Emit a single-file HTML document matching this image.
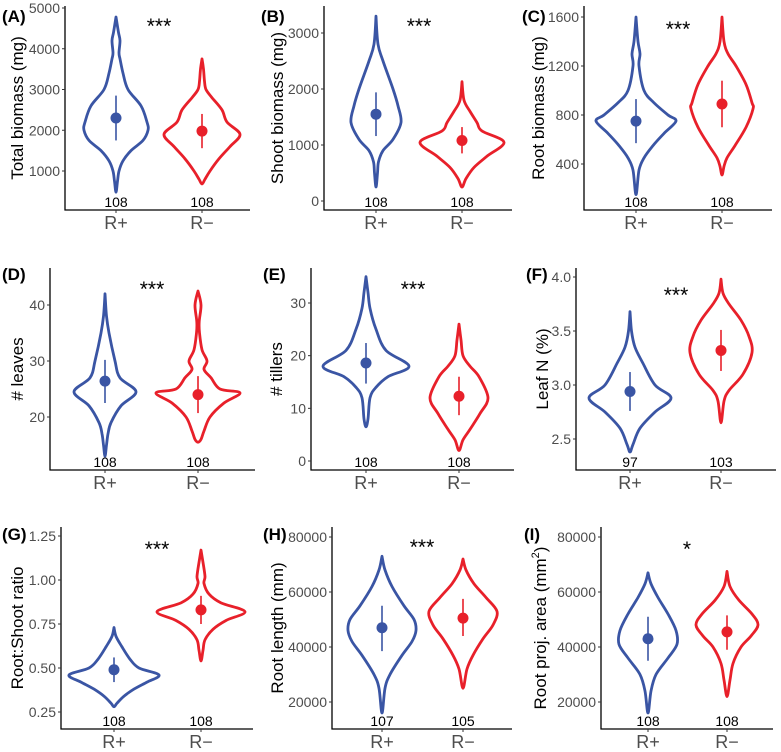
<!DOCTYPE html>
<html><head><meta charset="utf-8"><style>
html,body{margin:0;padding:0;background:#fff}
svg{display:block;font-family:"Liberation Sans",Arial,sans-serif}
</style></head><body>
<svg id="fig" width="781" height="752" viewBox="0 0 781 752" xmlns="http://www.w3.org/2000/svg"></svg>
<script>
// ---------- data ----------
const groups = ["R+", "R\u2212"];
// Panel A
const A_plusVals = [4780,4400,4200,3900,3750,3400,3000,2600,2200,2000,1750,1500,1250,1000,750,480];
const A_plusDens = [0,2.5,4,3,4,7,12,25,31,32,27,15,7,3,1.5,0];
const A_minusVals = [3750,3500,3200,3000,2800,2500,2200,1900,1600,1300,1000,800,680];
const A_minusDens = [0,1.5,2.5,4,10,20,25,38,28,17,8,3,0];
const A_mean=[2300,1980], A_lo=[1750,1560], A_hi=[2850,2400], A_n=["108","108"];
// Panel B
const B_plusVals = [3300,2800,2500,2000,1700,1400,1100,900,700,500,250];
const B_plusDens = [0,2,7,17,22,25,17,7,2.5,1.5,0];
const B_minusVals = [2130,1800,1600,1400,1250,1050,800,600,400,250];
const B_minusDens = [0,2,8,15,20,42,25,12,4,0];
const B_mean=[1550,1080], B_lo=[1160,850], B_hi=[1940,1320], B_n=["108","108"];
// Panel C
const C_plusVals = [1600,1400,1300,1200,1000,900,800,750,650,550,450,350,150];
const C_plusDens = [0,2,4,3,8,18,32,40,28,17,8,3,0];
const C_minusVals = [1600,1400,1300,1200,1050,900,850,700,550,450,380,310];
const C_minusDens = [0,2,6,14,24,30,31,24,13,5,2,0];
const C_mean=[750,890], C_lo=[570,700], C_hi=[930,1080], C_n=["108","108"];
// Panel D
const D_plusVals = [42,38,35,30,27,24.5,22,19,17,15,13];
const D_plusDens = [0,1.5,4,10,15,31,16,6,3,1.5,0];
const D_minusVals = [42.5,40,37,35,32,30,28.5,27,25,24.3,22.5,20,17.5,16,15.5];
const D_minusDens = [0,3,1.2,1.5,4,9,6,13,22,42,26,12,6,3,0];
const D_mean=[26.4,24], D_lo=[22.5,20.7], D_hi=[30.2,27.3], D_n=["108","108"];
// Panel E
const E_plusVals = [35,32,29,25,21,18,16,14,12,8,6.5];
const E_plusDens = [0,2,4,10,20,43,22,10,4,2,0];
const E_minusVals = [26,23,20,18,16,12,9,6,4,2];
const E_minusDens = [0,2,4,11,20,29,21,11,4,0];
const E_mean=[18.6,12.3], E_lo=[14.7,8.7], E_hi=[22.4,16.0], E_n=["108","108"];
// Panel F
const F_plusVals = [3.68,3.5,3.35,3.2,3.0,2.88,2.75,2.6,2.45,2.38];
const F_plusDens = [0,1.5,5,13,25,41,25,10,3,0];
const F_minusVals = [3.98,3.85,3.75,3.6,3.45,3.3,3.1,2.95,2.85,2.65];
const F_minusDens = [0,2,8,20,28,31,22,8,3,0];
const F_mean=[2.94,3.32], F_lo=[2.76,3.13], F_hi=[3.12,3.51], F_n=["97","103"];
// Panel G
const G_plusVals = [0.73,0.68,0.62,0.55,0.5,0.46,0.42,0.38,0.34,0.3,0.28];
const G_plusDens = [0,2,8,16,25,45,33,20,10,3,0];
const G_minusVals = [1.17,1.1,1.02,0.98,0.92,0.87,0.82,0.77,0.72,0.66,0.6,0.54];
const G_minusDens = [0,2,4,3,8,20,44,25,12,4,2,0];
const G_mean=[0.49,0.83], G_lo=[0.42,0.75], G_hi=[0.56,0.91], G_n=["108","108"];
// Panel H
const H_plusVals = [73000,68000,62000,55000,50000,46000,42000,37000,30000,25000,16000];
const H_plusDens = [0,3,10,22,32,34,30,20,8,3,0];
const H_minusVals = [72000,68000,63000,58000,53000,48000,43000,37000,32000,25000];
const H_minusDens = [0,3,11,23,34,30,20,10,4,0];
const H_mean=[47000,50500], H_lo=[38500,44000], H_hi=[55000,57500], H_n=["107","105"];
// Panel I
const I_plusVals = [67000,63000,58000,52000,46000,41000,36000,30000,24000,16000];
const I_plusDens = [0,3,10,20,28,29,20,8,3,0];
const I_minusVals = [67500,62000,57000,52000,48000,44000,40000,34000,28000,22000];
const I_minusDens = [0,3,12,25,31,24,14,6,3,0];
const I_mean=[43000,45500], I_lo=[35000,39000], I_hi=[51000,51500], I_n=["108","108"];

const A_ticks=[1000,2000,3000,4000,5000], B_ticks=[0,1000,2000,3000], C_ticks=[400,800,1200,1600],
      D_ticks=[20,30,40], E_ticks=[0,10,20,30], F_ticks=[2.5,3.0,3.5,4.0],
      G_ticks=[0.25,0.5,0.75,1.0,1.25], H_ticks=[20000,40000,60000,80000], I_ticks=[20000,40000,60000,80000];
const F_tickLabels=["2.5","3.0","3.5","4.0"], G_tickLabels=["0.25","0.50","0.75","1.00","1.25"];

// ---------- layout ----------
const NS="http://www.w3.org/2000/svg";
const svg=document.getElementById('fig');
const BLUE="#3a55a4", RED="#e8202a";
function mk(tag,attrs,parent){const e=document.createElementNS(NS,tag);for(const k in attrs)e.setAttribute(k,attrs[k]);(parent||svg).appendChild(e);return e;}

const panels=[
 {id:'a',label:'(A)',title:'Total biomass (mg)',ax:65,right:250,top:6,bot:210,v1:5000,y1:8,v2:1000,y2:171,cx:[116,202],tx:17,lx:2,ly:22,sig:'***',sx:159,sy:25,
  pv:A_plusVals,pd:A_plusDens,mv:A_minusVals,md:A_minusDens,mean:A_mean,lo:A_lo,hi:A_hi,n:A_n,ticks:A_ticks},
 {id:'b',label:'(B)',title:'Shoot biomass (mg)',ax:324,right:512,top:6,bot:210,v1:3000,y1:33,v2:0,y2:201,cx:[376,462],tx:277,lx:261,ly:22,sig:'***',sx:419,sy:25,
  pv:B_plusVals,pd:B_plusDens,mv:B_minusVals,md:B_minusDens,mean:B_mean,lo:B_lo,hi:B_hi,n:B_n,ticks:B_ticks},
 {id:'c',label:'(C)',title:'Root biomass (mg)',ax:584,right:772,top:6,bot:210,v1:1600,y1:17,v2:400,y2:164,cx:[636,722],tx:538,lx:522,ly:22,sig:'***',sx:678,sy:28,
  pv:C_plusVals,pd:C_plusDens,mv:C_minusVals,md:C_minusDens,mean:C_mean,lo:C_lo,hi:C_hi,n:C_n,ticks:C_ticks},
 {id:'d',label:'(D)',title:'# leaves',ax:50,right:255,top:268,bot:470,v1:40,y1:305,v2:20,y2:417,cx:[105,198],tx:17,lx:2,ly:280,sig:'***',sx:152,sy:288,
  pv:D_plusVals,pd:D_plusDens,mv:D_minusVals,md:D_minusDens,mean:D_mean,lo:D_lo,hi:D_hi,n:D_n,ticks:D_ticks},
 {id:'e',label:'(E)',title:'# tillers',ax:311,right:514,top:268,bot:470,v1:30,y1:303,v2:0,y2:461,cx:[366,459],tx:276,lx:263,ly:280,sig:'***',sx:413,sy:288,
  pv:E_plusVals,pd:E_plusDens,mv:E_minusVals,md:E_minusDens,mean:E_mean,lo:E_lo,hi:E_hi,n:E_n,ticks:E_ticks},
 {id:'f',label:'(F)',title:'Leaf N (%)',ax:576,right:776,top:268,bot:470,v1:4.0,y1:277,v2:2.5,y2:439,cx:[630,721],tx:542,lx:526,ly:280,sig:'***',sx:676,sy:294,
  pv:F_plusVals,pd:F_plusDens,mv:F_minusVals,md:F_minusDens,mean:F_mean,lo:F_lo,hi:F_hi,n:F_n,ticks:F_ticks,tl:F_tickLabels},
 {id:'g',label:'(G)',title:'Root:Shoot ratio',ax:61,right:253,top:527,bot:729,v1:1.25,y1:536,v2:0.25,y2:712,cx:[114,201],tx:17,lx:2,ly:540,sig:'***',sx:157,sy:548,
  pv:G_plusVals,pd:G_plusDens,mv:G_minusVals,md:G_minusDens,mean:G_mean,lo:G_lo,hi:G_hi,n:G_n,ticks:G_ticks,tl:G_tickLabels},
 {id:'h',label:'(H)',title:'Root length (mm)',ax:332,right:512,top:527,bot:729,v1:80000,y1:537,v2:20000,y2:702,cx:[382,463],tx:277,lx:263,ly:540,sig:'***',sx:422,sy:546,
  pv:H_plusVals,pd:H_plusDens,mv:H_minusVals,md:H_minusDens,mean:H_mean,lo:H_lo,hi:H_hi,n:H_n,ticks:H_ticks},
 {id:'i',label:'(I)',title:'Root proj. area (mm',sup:'2',ax:601,right:773,top:527,bot:729,v1:80000,y1:537,v2:20000,y2:702,cx:[648,727],tx:540,lx:524,ly:540,sig:'*',sx:687,sy:548,
  pv:I_plusVals,pd:I_plusDens,mv:I_minusVals,md:I_minusDens,mean:I_mean,lo:I_lo,hi:I_hi,n:I_n,ticks:I_ticks}
];

function smoothPath(pts){
  let d='M'+pts[0][0].toFixed(1)+','+pts[0][1].toFixed(1);
  for(let i=0;i<pts.length-1;i++){
    const p0=pts[Math.max(0,i-1)],p1=pts[i],p2=pts[i+1],p3=pts[Math.min(pts.length-1,i+2)];
    const c1=[p1[0]+(p2[0]-p0[0])/6,p1[1]+(p2[1]-p0[1])/6];
    const c2=[p2[0]-(p3[0]-p1[0])/6,p2[1]-(p3[1]-p1[1])/6];
    d+=' C'+c1[0].toFixed(1)+','+c1[1].toFixed(1)+' '+c2[0].toFixed(1)+','+c2[1].toFixed(1)+' '+p2[0].toFixed(1)+','+p2[1].toFixed(1);
  }
  return d;
}

panels.forEach(p=>{
  const g=mk('g',{});
  
  
  const yScale=v=>p.y1+(v-p.v1)*(p.y2-p.y1)/(p.v2-p.v1);
  const ya=mk('line',{x1:p.ax,y1:p.top,x2:p.ax,y2:p.bot+0.5,stroke:'#000','stroke-width':1.3},g);
  
  
  const xa=mk('line',{x1:p.ax-0.5,y1:p.bot,x2:p.right,y2:p.bot,stroke:'#000','stroke-width':1.3},g);
  
  
  p.ticks.forEach((t,i)=>{
    const y=yScale(t);
    const tm=mk('line',{x1:p.ax-3,y1:y,x2:p.ax,y2:y,stroke:'#333','stroke-width':1},g);
    
    
    const tx=mk('text',{x:p.ax-5,y:y+5,'text-anchor':'end','font-size':14,fill:'#4d4d4d'},g);
    tx.textContent=p.tl?p.tl[i]:String(t);
    
    
  });
  const cy=(p.top+p.bot)/2;
  const tt=mk('text',{x:p.tx,y:cy,'text-anchor':'middle','font-size':17,fill:'#000',transform:'rotate(-90 '+p.tx+' '+cy+') translate(0 6)'},g);
  tt.textContent=p.title;
  if(p.sup){const s=mk('tspan',{'font-size':11,dy:-7},tt);s.textContent=p.sup;const c=mk('tspan',{dy:7},tt);c.textContent=')';}
  
  
  const pl=mk('text',{x:p.lx,y:p.ly,'font-size':17,'font-weight':'bold',fill:'#000'},g);
  pl.textContent=p.label;
  
  
  const sg=mk('text',{x:p.sx,y:p.sy+8,'text-anchor':'middle','font-size':21,fill:'#000'},g);
  sg.textContent=p.sig;
  
  
  [[p.pv,p.pd,BLUE],[p.mv,p.md,RED]].forEach((vd,k)=>{
    const cx=p.cx[k];
    const right=vd[0].map((v,i)=>[cx+vd[1][i],yScale(v)]);
    const left=vd[0].map((v,i)=>[cx-vd[1][i],yScale(v)]).reverse();
    const pts=right.concat(left.slice(1));
    const path=mk('path',{d:smoothPath(pts)+' Z',fill:'none',stroke:vd[2],'stroke-width':2.8,'stroke-linejoin':'round'},g);
    
    
    const eb=mk('line',{x1:cx,x2:cx,y1:yScale(p.lo[k]),y2:yScale(p.hi[k]),stroke:vd[2],'stroke-width':1.6},g);
    
    
    const dot=mk('circle',{cx:cx,cy:yScale(p.mean[k]),r:5.5,fill:vd[2]},g);
    
    
    const nl=mk('text',{x:cx,y:p.bot-3,'text-anchor':'middle','font-size':14,fill:'#000'},g);
    nl.textContent=p.n[k];
    
    
    const tk=mk('line',{x1:cx,x2:cx,y1:p.bot,y2:p.bot+3,stroke:'#333','stroke-width':1},g);
    
    
    const xl=mk('text',{x:cx,y:p.bot+19,'text-anchor':'middle','font-size':18,fill:'#4d4d4d'},g);
    xl.textContent=groups[k];
    
    
  });
});
</script>
</body></html>
